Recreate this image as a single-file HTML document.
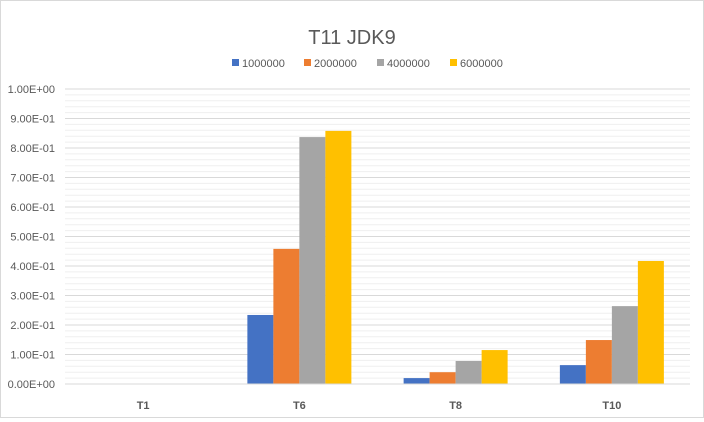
<!DOCTYPE html>
<html><head><meta charset="utf-8"><style>
body{margin:0;background:#fff;font-family:"Liberation Sans",Calibri,sans-serif}
#c{position:relative;width:702px;height:416px;border:1px solid #d9d9d9;background:#fff}
</style></head><body>
<div id="c">
<svg id="s" width="702" height="416"></svg>
</div>
<script>
const categories=["T1","T6","T8","T10"];
const seriesNames=["1000000","2000000","4000000","6000000"];
const s1=[0,0.234,0.02,0.064];
const s2=[0,0.458,0.04,0.149];
const s3=[0,0.837,0.078,0.264];
const s4=[0,0.858,0.115,0.417];
const yTicks=["0.00E+00","1.00E-01","2.00E-01","3.00E-01","4.00E-01","5.00E-01","6.00E-01","7.00E-01","8.00E-01","9.00E-01","1.00E+00"];
const colors=["#4472c4","#ed7d31","#a5a5a5","#ffc000"];
const NS="http://www.w3.org/2000/svg",svg=document.getElementById('s');
const X0=64,X1=689,Y0=383,Y1=88;
const y=v=>Y0-(Y0-Y1)*v;
const bw=(X1-X0)/categories.length;
function mk(t,a,txt){const e=document.createElementNS(NS,t);for(const k in a)e.setAttribute(k,a[k]);if(txt!==undefined)e.textContent=txt;svg.appendChild(e);return e;}
let e=mk('text',{x:351,y:43,'text-anchor':'middle','font-size':20,fill:'#595959'},'T11 JDK9');


for(let i=0;i<=50;i++){const v=i/50;const major=i%5==0;
 e=mk('line',{x1:X0,x2:X1,y1:y(v),y2:y(v),stroke:major?'#d9d9d9':'#efefef','stroke-width':1});
 
 }
yTicks.forEach((t,i)=>{e=mk('text',{x:54,y:y(i/10)+4,'text-anchor':'end','font-size':11,fill:'#595959'},t);
 
 });
const series=[s1,s2,s3,s4];
categories.forEach((c,ci)=>{const cx=X0+bw*(ci+0.5);
 series.forEach((s,si)=>{const x=cx-52+26*si;
  e=mk('rect',{x:x,y:y(s[ci]),width:26,height:Y0-y(s[ci]),fill:colors[si]});
  
  });
 e=mk('text',{x:cx,y:408,'text-anchor':'middle','font-size':11,'font-weight':'bold',fill:'#595959'},c);
 
 });
e=mk('line',{x1:X0,x2:X1,y1:Y0,y2:Y0,stroke:'#d9d9d9'});


const lx=[231,303,376,449];
seriesNames.forEach((n,i)=>{e=mk('rect',{x:lx[i],y:58,width:7,height:7,fill:colors[i]});
 
 
 e=mk('text',{x:lx[i]+10,y:66,'font-size':11,fill:'#595959'},n);
 
 });
</script>
</body></html>
